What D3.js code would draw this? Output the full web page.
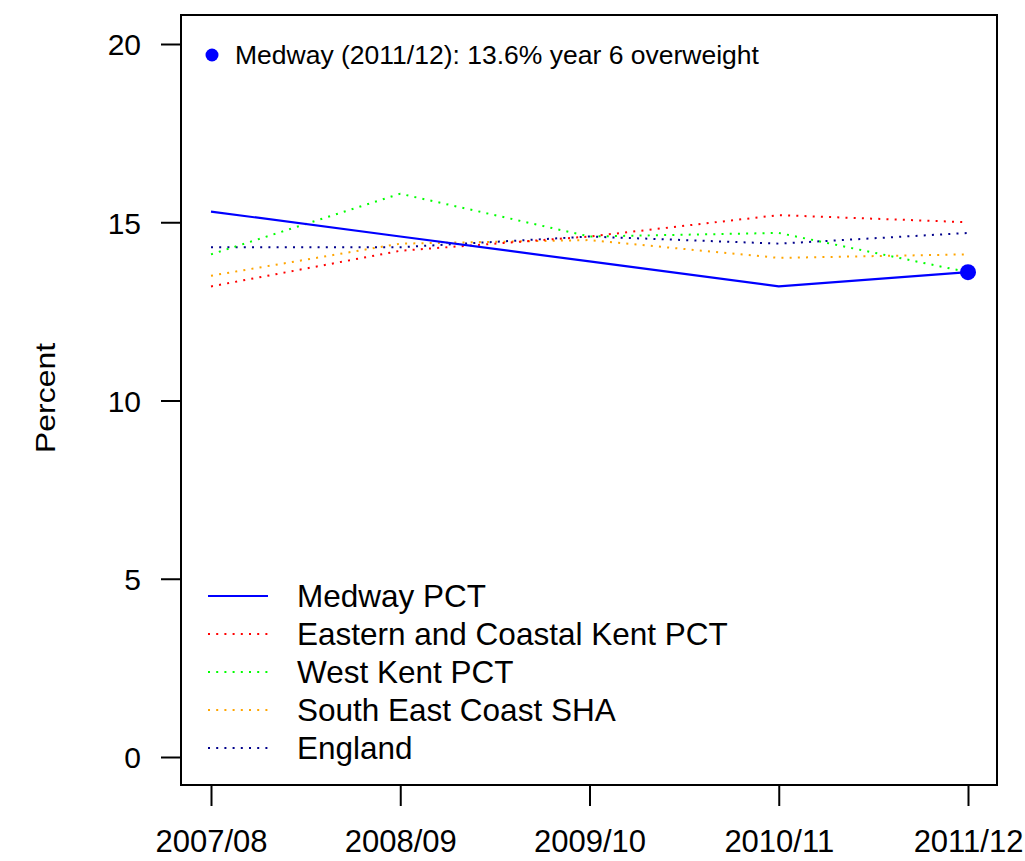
<!DOCTYPE html>
<html>
<head>
<meta charset="utf-8">
<script src="https://cdnjs.cloudflare.com/ajax/libs/d3/7.8.5/d3.min.js"></script>
<style>
  body { margin: 0; background: #fff; }
  text { font-family: "Liberation Sans", Arial, sans-serif; fill: #000; }
</style>
</head>
<body>
<div id="chart"></div>
<script>
const years = ["2007/08", "2008/09", "2009/10", "2010/11", "2011/12"];
const yTicks = [0, 5, 10, 15, 20];

const medway = [15.3, 14.6, 13.9, 13.2, 13.6];
const eastKent = [13.2, 14.2, 14.6, 15.2, 15.0];
const westKent = [14.1, 15.8, 14.6, 14.7, 13.6];
const seCoast = [13.5, 14.4, 14.5, 14.0, 14.1];
const england = [14.3, 14.3, 14.6, 14.4, 14.7];

const seriesNames = ["Medway PCT", "Eastern and Coastal Kent PCT", "West Kent PCT", "South East Coast SHA", "England"];
const seriesColors = ["#0000ff", "#ff0000", "#00ff00", "#ffa500", "#00008b"];

const series = [medway, eastKent, westKent, seCoast, england];
const note = "Medway (2011/12): 13.6% year 6 overweight";

const width = 1025, height = 861;
const box = {left: 181, right: 997, top: 15, bottom: 785};

const svg = d3.select("#chart").append("svg")
    .attr("width", width)
    .attr("height", height);

let x = d3.scalePoint()
    .domain(years)
    .range([211, 968]);

let y = d3.scaleLinear()
    .domain([0, 20])
    .range([757, 44]);

// plot frame
svg.append("rect")
    .attr("x", box.left)
    .attr("y", box.top)
    .attr("width", box.right - box.left)
    .attr("height", box.bottom - box.top)
    .attr("fill", "none")
    .attr("stroke", "#000")
    .attr("stroke-width", 2);

// y axis
let yAxis = svg.append("g")
    .attr("transform", "translate(" + box.left + ",0)")
    .call(d3.axisLeft(y).tickValues(yTicks).tickSize(20).tickPadding(20));
yAxis.select(".domain").remove();
yAxis.selectAll("line").attr("stroke-width", 2);
yAxis.selectAll("text")
    .style("font-size", "30px")
    .attr("dy", "0.36em");

// x axis
let xAxis = svg.append("g")
    .attr("transform", "translate(0," + box.bottom + ")")
    .call(d3.axisBottom(x).tickSize(21).tickPadding(46));
xAxis.select(".domain").remove();
xAxis.selectAll("line").attr("stroke-width", 2);
xAxis.selectAll("text")
    .style("font-size", "31px")
    .attr("dy", "0");

svg.append("text")
    .attr("transform", "translate(55,398) rotate(-90)")
    .attr("text-anchor", "middle")
    .attr("textLength", 110)
    .attr("lengthAdjust", "spacingAndGlyphs")
    .style("font-size", "28px")
    .text("Percent");

let line = d3.line()
    .x(function(d, i){ return x(years[i]); })
    .y(function(d){ return y(d); });

// draw dotted ones first, Medway on top
for (let k = series.length - 1; k >= 0; k--) {
    svg.append("path")
        .datum(series[k])
        .attr("d", line)
        .attr("fill", "none")
        .attr("stroke", seriesColors[k])
        .attr("stroke-width", k == 0 ? 2.2 : 2)
        .attr("stroke-dasharray", k == 0 ? null : "2,6.2");
}

// last Medway point
svg.append("circle")
    .attr("cx", x(years[4]))
    .attr("cy", y(medway[4]))
    .attr("r", 8)
    .attr("fill", "#0000ff");

// annotation
svg.append("circle")
    .attr("cx", 212)
    .attr("cy", 55)
    .attr("r", 6.5)
    .attr("fill", "#0000ff");
svg.append("text")
    .attr("x", 235)
    .attr("y", 64)
    .style("font-size", "26.5px")
    .text(note);

// legend
let legend = svg.append("g");
seriesNames.forEach(function(name, i){
    let ly = 596 + i * 38;
    legend.append("line")
        .attr("x1", 208).attr("x2", 268)
        .attr("y1", ly).attr("y2", ly)
        .attr("stroke", seriesColors[i])
        .attr("stroke-width", 2)
        .attr("stroke-dasharray", i == 0 ? null : "2,6.2");
    legend.append("text")
        .attr("x", 297)
        .attr("y", ly)
        .attr("dy", "0.36em")
        .style("font-size", "31.5px")
        .text(name);
});
</script>
</body>
</html>
